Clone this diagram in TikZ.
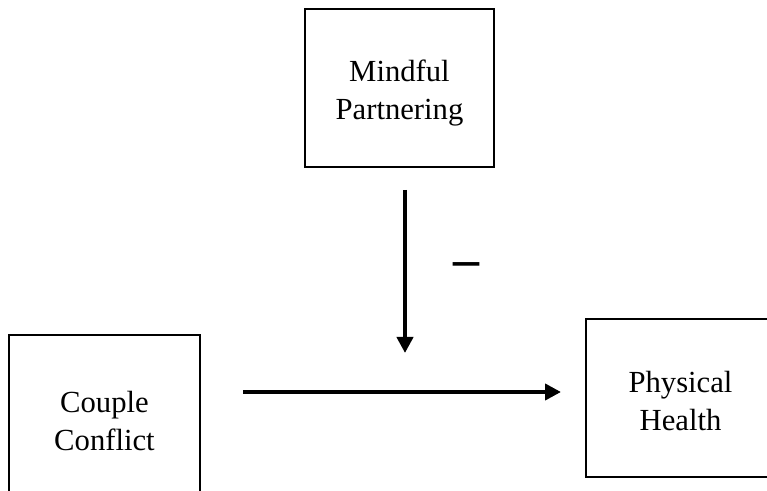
\documentclass[tikz,border=0pt]{standalone}
\usepackage{fontspec}
\setmainfont{Liberation Serif}
\usetikzlibrary{arrows.meta}
\begin{document}
\begin{tikzpicture}[x=0.75pt,y=-0.75pt,
  vartext/.style={align=center,inner sep=0pt,font=\fontsize{23pt}{29pt}\selectfont},
  boxline/.style={draw=black,line width=1.5pt},
  pathline/.style={line width=3pt,-{Triangle[length=12pt,width=12pt]}},
  signlabel/.style={inner sep=0pt,font=\fontsize{39pt}{39pt}\selectfont\bfseries}]
\useasboundingbox (0,0) rectangle (767,491);
\fill[white] (0,0) rectangle (767,491);
\node[vartext] (mp) at (399.5,93) {Mindful\\Partnering};
\draw[boxline] (mp.center) ++(-94.5,-84) rectangle ++(189,158);
\node[vartext] (cc) at (104.5,421) {Couple\\Conflict};
\draw[boxline] (cc.center) ++(-95.5,-86) rectangle ++(191,200);
\node[vartext] (ph) at (680.5,401) {Physical\\Health};
\draw[boxline] (ph.center) ++(-94.5,-82) rectangle ++(220,158);
\coordinate (hs) at (243,392);
\coordinate (he) at (561,392);
\coordinate (vs) at (405,190);
\coordinate (ve) at (405,353);
\draw[pathline] (hs) -- (he);
\draw[pathline] (vs) -- (ve);
\node[signlabel] (minus) at (466,270) {–};
\end{tikzpicture}
\end{document}
